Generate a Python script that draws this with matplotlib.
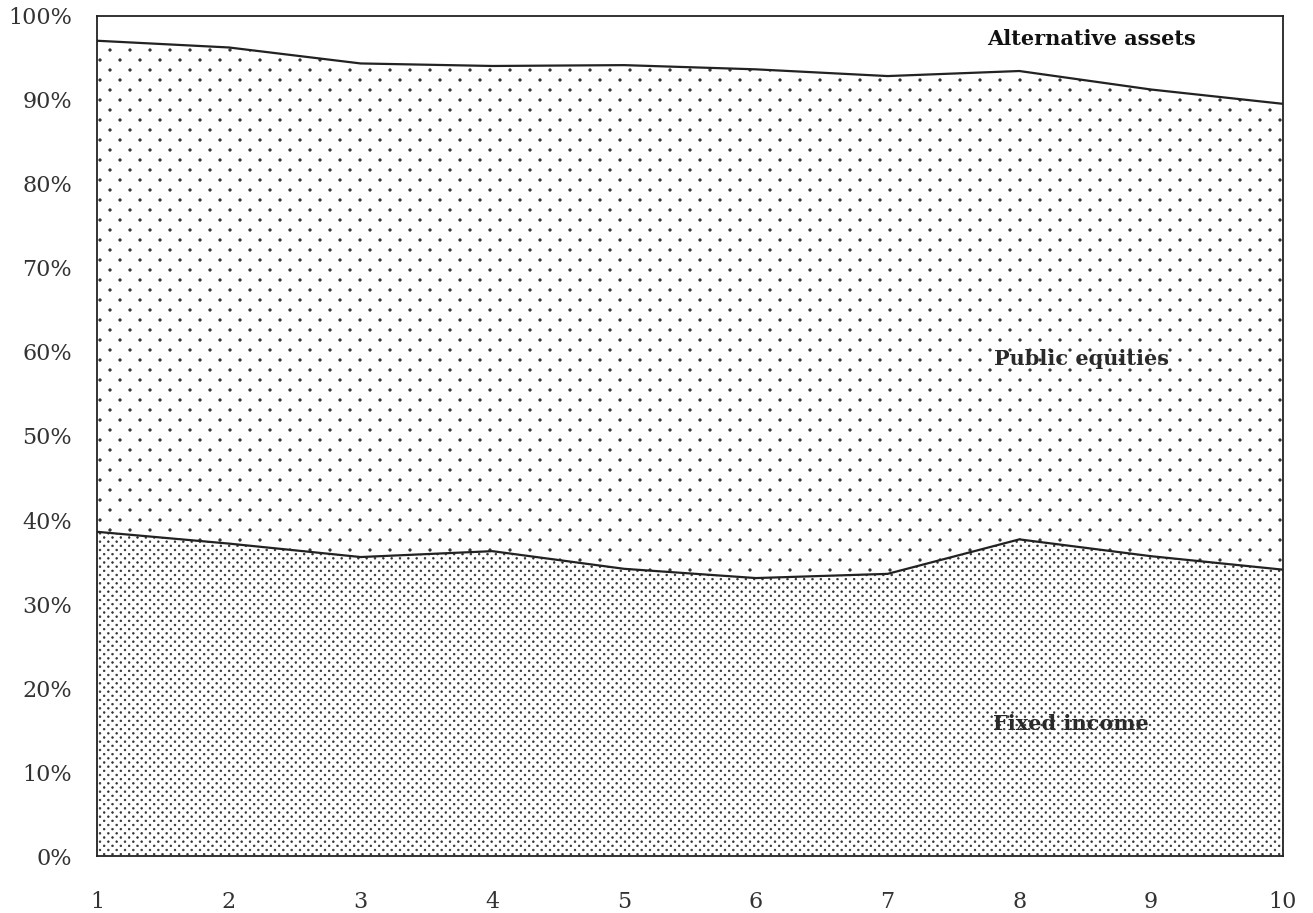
import numpy as np
import matplotlib.pyplot as plt
from matplotlib import hatch as mhatch
from matplotlib.path import Path

# Asset allocation shares (%) by period
periods = [1, 2, 3, 4, 5, 6, 7, 8, 9, 10]
fixed_income = [38.6, 37.2, 35.6, 36.3, 34.2, 33.1, 33.6, 37.7, 35.7, 34.1]
public_equities = [58.4, 59.0, 58.7, 57.7, 59.9, 60.5, 59.2, 55.7, 55.5, 55.4]
alternative_assets = [3.0, 3.8, 5.7, 6.0, 5.9, 6.4, 7.2, 6.6, 8.8, 10.5]
y_ticks = [0, 10, 20, 30, 40, 50, 60, 70, 80, 90, 100]


class DotLattice(mhatch.HatchPatternBase):
    # staggered dot screen: '.' sparse, '..' dense
    def __init__(self, hatch, density):
        n = hatch.count('.')
        self.centers = np.empty((0, 2))
        self.r = 0.0
        if n:
            ncol, nrow, self.r = (5, 10, 0.0125) if n == 1 else (12, 24, 0.0085)
            pts = []
            for k in range(-1, nrow + 2):
                shift = 0.5 / ncol if k % 2 else 0.0
                for j in range(-1, ncol + 2):
                    pts.append((j / ncol + shift, k / nrow))
            self.centers = np.array(pts)
        circ = Path.unit_circle()
        self.circ_v = circ.vertices
        self.circ_c = circ.codes
        self.num_vertices = len(self.centers) * len(self.circ_v)

    def set_vertices_and_codes(self, vertices, codes):
        np.concatenate([self.circ_v * self.r + c for c in self.centers], out=vertices)
        np.concatenate([self.circ_c] * len(self.centers), out=codes)


i = mhatch._hatch_types.index(mhatch.SmallFilledCircles)
mhatch._hatch_types[i] = DotLattice

plt.rcParams['font.family'] = 'DejaVu Serif'
plt.rcParams['hatch.linewidth'] = 0.5

fig = plt.figure(figsize=(13.13, 9.13), dpi=100)
ax = fig.add_axes([0.074, 0.062, 0.903, 0.921])

x = np.array(periods)
lower = np.array(fixed_income)
upper = lower + np.array(public_equities)
top = upper + np.array(alternative_assets)

ax.fill_between(x, 0, lower, facecolor='white', edgecolor='#333333', hatch='..', linewidth=0)
ax.fill_between(x, lower, upper, facecolor='white', edgecolor='#333333', hatch='.', linewidth=0)
ax.fill_between(x, upper, top, facecolor='white', linewidth=0)

ax.plot(x, lower, color='#222222', lw=1.6)
ax.plot(x, upper, color='#222222', lw=1.6)

ax.text(8.55, 97.2, 'Alternative assets', fontsize=15, fontweight='bold',
        ha='center', va='center', color='#111111')
ax.text(8.47, 59.2, 'Public equities', fontsize=15, fontweight='bold',
        ha='center', va='center', color='#2a2a2a')
ax.text(8.39, 15.7, 'Fixed income', fontsize=15, fontweight='bold',
        ha='center', va='center', color='#2a2a2a')

ax.set_xlim(1, 10)
ax.set_ylim(0, 100)
ax.set_xticks(periods)
ax.set_yticks(y_ticks)
ax.set_yticklabels([f'{v}%' for v in y_ticks])
ax.tick_params(length=0, labelsize=16, colors='#333333')
ax.tick_params(axis='x', pad=25)
ax.tick_params(axis='y', pad=18)
for s in ax.spines.values():
    s.set_linewidth(1.3)
    s.set_color('#222222')

fig.savefig('out.png', dpi=100)
